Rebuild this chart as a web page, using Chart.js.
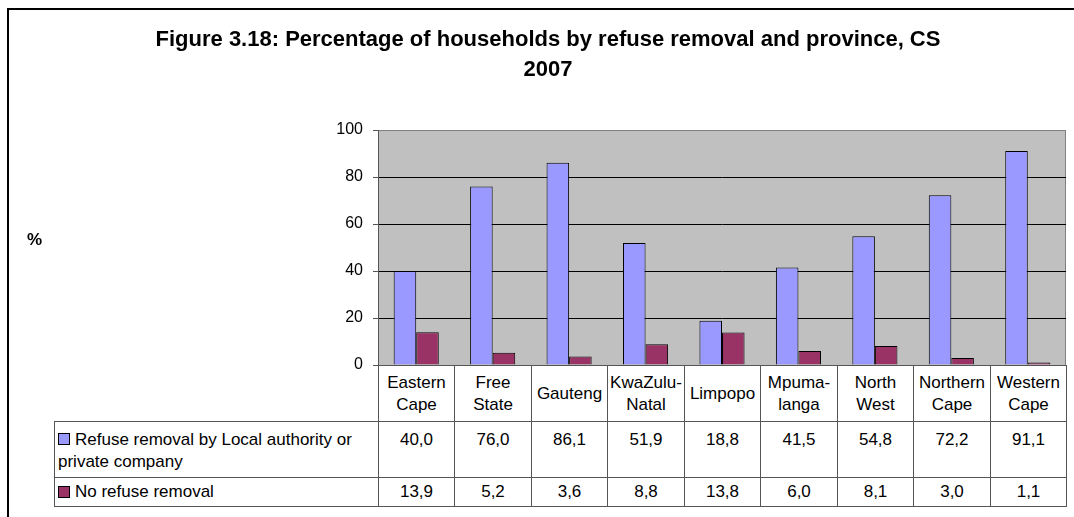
<!DOCTYPE html>
<html>
<head>
<meta charset="utf-8">
<script src="https://cdn.jsdelivr.net/npm/chart.js@4/dist/chart.umd.min.js"></script>
<style>
  html, body { margin: 0; padding: 0; background: #fff; overflow: hidden; }
  body { width: 1074px; height: 517px; position: relative; font-family: "Liberation Sans", Arial, sans-serif; }
  #frame { position: absolute; left: 7px; top: 8px; width: 1200px; height: 700px; border: 2px solid #000; box-sizing: border-box; }
  #chart { position: absolute; left: 0; top: 0; }
  #title { position: absolute; left: 0; top: 24px; width: 1096px; text-align: center; font-weight: bold; font-size: 22px; line-height: 30px; color: #000; }
  #ylabel { position: absolute; left: 27px; top: 230px; font-weight: bold; font-size: 17px; color: #000; }
  .cell { position: absolute; box-sizing: border-box; border: 1px solid #555; font-size: 17px; line-height: 22px; color: #000; background: #fff; }
  .cat { display: flex; align-items: center; justify-content: center; text-align: center; }
  .val { text-align: center; padding-top: 7px; }
  .mid { display: flex; align-items: center; justify-content: center; }
  .leg { padding: 7px 4px 0 3px; }
  .leg2 { display: flex; align-items: center; padding-left: 3px; }
  .sw { display: inline-block; width: 10px; height: 10px; border: 1px solid #000; margin-right: 5px; vertical-align: 0px; }
</style>
</head>
<body>
<div id="frame"></div>
<canvas id="chart" width="1074" height="517"></canvas>
<div id="title">Figure 3.18: Percentage of households by refuse removal and province, CS<br>2007</div>
<div id="ylabel">%</div>
<div id="table"></div>
<script>
const provinces = [
  ["Eastern", "Cape"],
  ["Free", "State"],
  ["Gauteng"],
  ["KwaZulu-", "Natal"],
  ["Limpopo"],
  ["Mpuma-", "langa"],
  ["North", "West"],
  ["Northern", "Cape"],
  ["Western", "Cape"],
];
const seriesNames = [
  "Refuse removal by Local authority or private company",
  "No refuse removal",
];
const removalValues = [40.0, 76.0, 86.1, 51.9, 18.8, 41.5, 54.8, 72.2, 91.1];
const noRemovalValues = [13.9, 5.2, 3.6, 8.8, 13.8, 6.0, 8.1, 3.0, 1.1];
const yTicks = [0, 20, 40, 60, 80, 100];

const blueColor = "#9999FF";
const plumColor = "#993366";
const plotBg = "#C0C0C0";

// grey plot background
const plotBackground = {
  id: "plotBackground",
  beforeDraw(chart) {
    const { ctx, chartArea: a } = chart;
    ctx.save();
    ctx.fillStyle = plotBg;
    ctx.fillRect(a.left, a.top, a.right - a.left, a.bottom - a.top);
    ctx.strokeStyle = "#808080";
    ctx.lineWidth = 1;
    ctx.beginPath();
    ctx.moveTo(a.left, a.top + 0.5);
    ctx.lineTo(a.right - 0.5, a.top + 0.5);
    ctx.lineTo(a.right - 0.5, a.bottom);
    ctx.stroke();
    ctx.restore();
  },
};

const chart = new Chart(document.getElementById("chart"), {
  type: "bar",
  data: {
    labels: provinces.map((p) => p.join(" ")),
    datasets: [
      {
        label: seriesNames[0],
        data: removalValues,
        backgroundColor: blueColor,
        borderColor: "#000",
        borderWidth: 1,
        categoryPercentage: 0.59,
        barPercentage: 1.0,
      },
      {
        label: seriesNames[1],
        data: noRemovalValues,
        backgroundColor: plumColor,
        borderColor: "#000",
        borderWidth: 1,
        categoryPercentage: 0.59,
        barPercentage: 1.0,
      },
    ],
  },
  options: {
    responsive: false,
    animation: false,
    layout: { padding: { left: 0, top: 130, right: 8, bottom: 152 } },
    plugins: {
      legend: { display: false },
      tooltip: { enabled: false },
    },
    scales: {
      x: { display: false },
      y: {
        min: 0,
        max: 100,
        afterFit(scale) {
          scale.width = 378;
        },
        afterBuildTicks(scale) {
          scale.ticks = yTicks.map((v) => ({ value: v }));
        },
        border: { color: "#555", width: 1 },
        grid: {
          color: (c) => (c.tick && c.tick.value === 100 ? "#808080" : "#000"),
          tickLength: 5,
          tickColor: "#555",
        },
        ticks: {
          color: "#000",
          padding: 10,
          font: { family: "Liberation Sans, Arial, sans-serif", size: 16 },
        },
      },
    },
  },
  plugins: [plotBackground],
});

// data table under the plot, columns follow the x scale
function buildTable() {
  const area = chart.chartArea;
  const xs = chart.scales.x;
  const colW = (area.right - area.left) / provinces.length;
  const tableLeft = 54;
  const rowTops = [area.bottom, area.bottom + 56, area.bottom + 112];
  const rowH = [56, 56, 29];
  const host = document.getElementById("table");
  let html = "";
  const cell = (cls, x, y, w, h, content) =>
    `<div class="cell ${cls}" style="left:${x}px;top:${y}px;width:${w + 1}px;height:${h + 1}px">${content}</div>`;

  provinces.forEach((p, i) => {
    const x = Math.round(xs.getPixelForValue(i) - colW / 2);
    const w = Math.round(xs.getPixelForValue(i) + colW / 2) - x;
    html += cell("cat", x, rowTops[0], w, rowH[0], `<div>${p.join("<br>")}</div>`);
    html += cell("val", x, rowTops[1], w, rowH[1], removalValues[i].toFixed(1).replace(".", ","));
    html += cell("mid", x, rowTops[2], w, rowH[2], noRemovalValues[i].toFixed(1).replace(".", ","));
  });
  const lw = Math.round(area.left) - tableLeft;
  html += cell("leg", tableLeft, rowTops[1], lw, rowH[1],
    `<span class="sw" style="background:${blueColor}"></span>${seriesNames[0]}`);
  html += cell("leg2", tableLeft, rowTops[2], lw, rowH[2],
    `<span class="sw" style="background:${plumColor}"></span>${seriesNames[1]}`);
  host.innerHTML = html;
}
buildTable();
</script>
</body>
</html>
